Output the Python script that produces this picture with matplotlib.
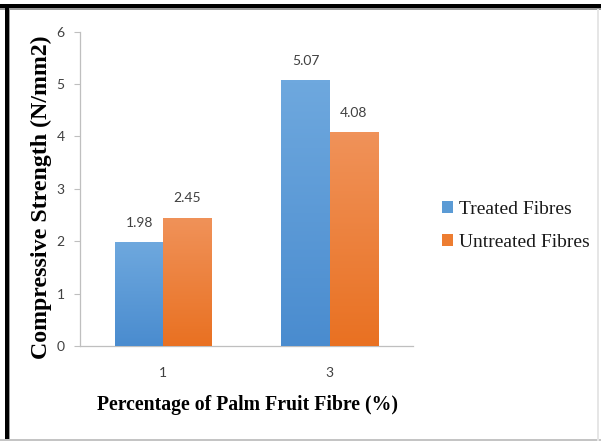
import numpy as np
import matplotlib
matplotlib.use("Agg")
import matplotlib.pyplot as plt
from matplotlib.patches import Rectangle
from matplotlib.colors import LinearSegmentedColormap

# ---- data ----
categories = ["1", "3"]
series_names = ["Treated Fibres", "Untreated Fibres"]
treated = [1.98, 5.07]
untreated = [2.45, 4.08]
y_ticks = [0, 1, 2, 3, 4, 5, 6]
x_label = "Percentage of Palm Fruit Fibre (%)"
y_label = "Compressive Strength (N/mm2)"

W, H = 601, 441
fig = plt.figure(figsize=(W / 100, H / 100), dpi=100)
fig.patch.set_facecolor("white")

ax = fig.add_axes([80 / W, 1 - 346 / H, 333 / W, (346 - 31.7) / H])

x = np.arange(len(categories))
bw = 0.29
blue = "#5B9BD5"
orange = "#ED7D31"
b1 = ax.bar(x - bw / 2, treated, bw, color=blue, label=series_names[0], zorder=2)
b2 = ax.bar(x + bw / 2, untreated, bw, color=orange, label=series_names[1], zorder=2)

# subtle vertical gradients like the original
grad = np.linspace(0, 1, 64).reshape(-1, 1)
cm_blue = LinearSegmentedColormap.from_list("b", ["#4A8CCF", "#6EA8DE"])
cm_orange = LinearSegmentedColormap.from_list("o", ["#E97122", "#F09259"])
for cont, cm in ((b1, cm_blue), (b2, cm_orange)):
    for p in cont.patches:
        x0, y0 = p.get_x(), p.get_y()
        im = ax.imshow(grad, extent=[x0, x0 + p.get_width(), y0, y0 + p.get_height()],
                       origin="lower", aspect="auto", cmap=cm, zorder=3,
                       interpolation="bilinear")
        im.set_clip_path(p)

lab_font = dict(family="Lato", size=10, color="#404040")
ax.bar_label(b1, labels=[f"{v:.2f}" for v in treated], padding=9.5, **lab_font)
ax.bar_label(b2, labels=[f"{v:.2f}" for v in untreated], padding=9.5, **lab_font)

ax.set_xlim(-0.5, 1.5)
ax.set_ylim(0, 6)
ax.set_yticks(y_ticks)
ax.set_xticks(x)
ax.set_xticklabels(categories)
for t in ax.get_xticklabels() + ax.get_yticklabels():
    t.set_fontfamily("Lato")
    t.set_fontsize(10)
    t.set_color("#404040")
ax.tick_params(axis="x", length=0, pad=15)
ax.tick_params(axis="y", length=4, width=0.8, color="#BFBFBF", pad=7)

for s in ("top", "right"):
    ax.spines[s].set_visible(False)
for s in ("left", "bottom"):
    ax.spines[s].set_color("#BFBFBF")
    ax.spines[s].set_linewidth(0.9)

ax.set_xlabel(x_label, family="Liberation Serif", weight="bold", size=14.2, color="black")
ax.xaxis.set_label_coords(0.502, -0.155)
ax.set_ylabel(y_label, family="Liberation Serif", weight="bold", size=17.2, color="black", va="center")
ax.yaxis.set_label_coords(-0.117, 0.472)

leg = ax.legend(loc="center left", bbox_to_anchor=(442 / W, 1 - 226 / H),
                bbox_transform=fig.transFigure, frameon=False,
                prop=dict(family="Liberation Serif", size=14),
                handlelength=0.55, handleheight=0.55, handletextpad=0.3,
                labelspacing=0.8, borderpad=0, borderaxespad=0)
for t in leg.get_texts():
    t.set_color("#1a1a1a")

# figure frame (black top and left bands, light grey right and bottom)
def px_rect(x0, y0, x1, y1, color):
    fig.add_artist(Rectangle((x0 / W, 1 - y1 / H), (x1 - x0) / W, (y1 - y0) / H,
                             transform=fig.transFigure, facecolor=color,
                             edgecolor="none", zorder=10))

px_rect(0, 4, W, 8.5, "black")
px_rect(0, 8.5, W, 10, "#9a9a9a")
px_rect(5, 4, 9, H, "black")
px_rect(9, 8.5, 10, H, "#9a9a9a")
px_rect(0, 439, W, H, "#c4c4c4")
px_rect(597, 8.5, 599, H, "#e6e6e6")

fig.savefig("out.png", dpi=100)
